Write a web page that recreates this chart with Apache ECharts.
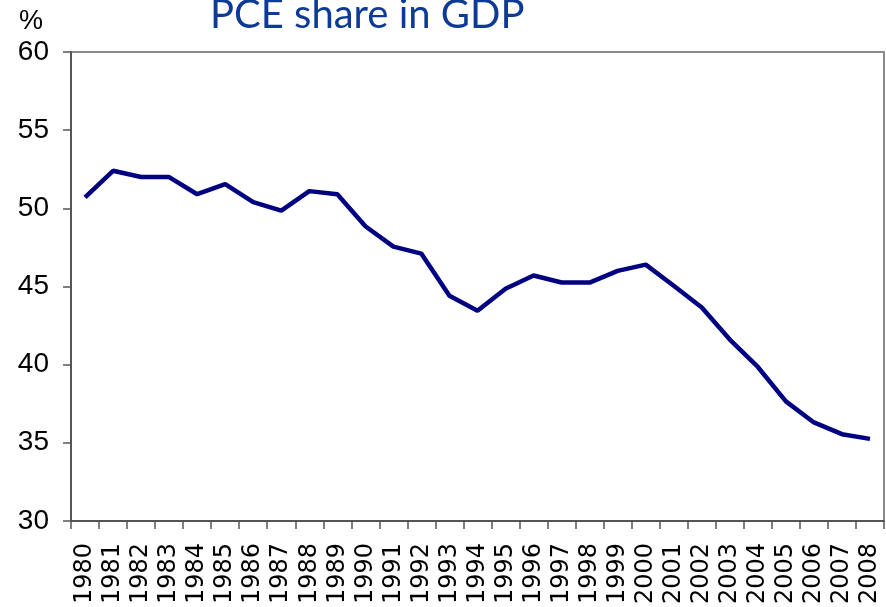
<!DOCTYPE html>
<html lang="en">
<head>
    <meta charset="UTF-8">
    <title>PCE share in GDP</title>
    <style>
        html, body { margin: 0; padding: 0; background: #fff; }
    </style>
</head>
<body>
<script src="https://cdn.jsdelivr.net/npm/echarts@6/dist/echarts.min.js"></script>
<div id="main" style="width: 886px;height:607px;"></div>

<script>
    var myChart = echarts.init(document.getElementById('main'));

    // years on the x axis
    var years = ['1980', '1981', '1982', '1983', '1984', '1985', '1986', '1987', '1988', '1989',
        '1990', '1991', '1992', '1993', '1994', '1995', '1996', '1997', '1998', '1999',
        '2000', '2001', '2002', '2003', '2004', '2005', '2006', '2007', '2008'];

    // PCE share in GDP, %
    var pceShare = [50.7, 52.4, 52.0, 52.0, 50.9, 51.55, 50.4, 49.85, 51.1, 50.9,
        48.85, 47.55, 47.1, 44.4, 43.45, 44.85, 45.7, 45.25, 45.25, 46.0,
        46.4, 45.05, 43.65, 41.6, 39.85, 37.65, 36.3, 35.55, 35.25];

    var option = {
        animation: false,
        title: {
            text: 'PCE share in GDP',
            left: 210,
            top: -5,
            padding: 0,
            textStyle: {
                fontFamily: 'Lato',
                fontWeight: 'normal',
                fontSize: 40,
                color: '#0d3a96'
            }
        },
        graphic: [{
            type: 'text',
            left: 19,
            top: 8,
            style: {
                text: '%',
                fontFamily: 'Liberation Sans',
                fontSize: 27,
                fill: '#000'
            }
        }],
        grid: {
            left: 71,
            right: 2,
            top: 52,
            bottom: 86,
            show: true,
            borderColor: '#8a8a8a',
            borderWidth: 2
        },
        xAxis: {
            type: 'category',
            data: years,
            boundaryGap: true,
            axisLine: {lineStyle: {color: '#444', width: 1.5}},
            axisTick: {show: true, length: 8, lineStyle: {color: '#555', width: 1.5}},
            axisLabel: {
                rotate: 90,
                interval: 0,
                margin: 22,
                fontFamily: 'DejaVu Sans',
                fontSize: 24,
                color: '#000'
            }
        },
        yAxis: {
            type: 'value',
            min: 30,
            max: 60,
            interval: 5,
            splitLine: {show: false},
            axisLine: {show: true, lineStyle: {color: '#444', width: 1.5}},
            axisTick: {show: true, length: 8, lineStyle: {color: '#555', width: 1.5}},
            axisLabel: {
                margin: 22,
                fontFamily: 'Liberation Sans',
                fontSize: 28,
                color: '#000'
            }
        },
        series: [{
            type: 'line',
            data: pceShare,
            symbol: 'none',
            lineStyle: {color: '#000080', width: 4.5}
        }]
    };

    myChart.setOption(option);
</script>

</body>
</html>
